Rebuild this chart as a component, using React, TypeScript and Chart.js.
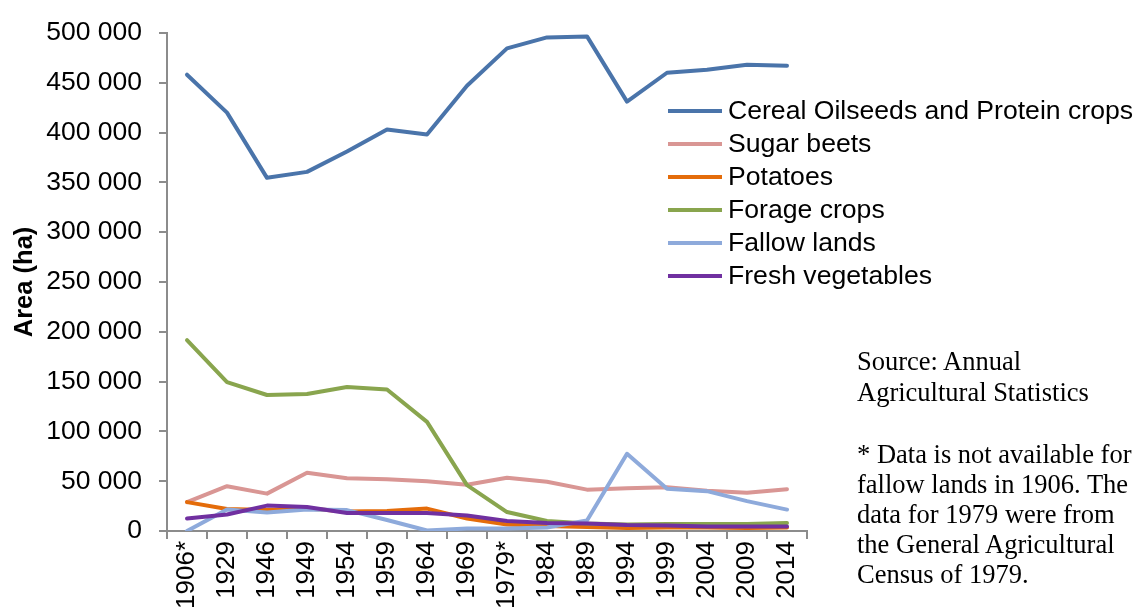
import React, { useEffect, useRef } from 'react';
import { Chart, registerables } from 'chart.js';

Chart.register(...registerables);

const years = ['1906*', '1929', '1946', '1949', '1954', '1959', '1964', '1969', '1979*', '1984', '1989', '1994', '1999', '2004', '2009', '2014'];

const cerealOilseedsProtein = [458000, 420000, 354500, 360500, 381000, 403000, 398000, 447000, 484500, 495500, 496500, 431000, 460000, 463000, 468000, 467000];
const sugarBeets = [29000, 45000, 37500, 58500, 53000, 52000, 50000, 46500, 53500, 49500, 41500, 43000, 44000, 40500, 38500, 42000];
const potatoes = [29000, 22000, 21000, 22500, 19500, 20000, 22500, 12500, 6500, 5000, 4000, 3000, 3500, 3500, 3000, 3500];
const forageCrops = [191500, 149500, 136500, 137500, 144500, 142000, 109500, 46000, 19000, 10000, 7500, 6500, 7000, 7000, 7000, 8000];
const fallowLands = [0, 21500, 18500, 21500, 21000, 11000, 500, 2500, 2500, 3500, 10500, 77500, 42500, 40000, 30000, 21500];
const freshVegetables = [12500, 16500, 25500, 24000, 18000, 18000, 18000, 15500, 10000, 8000, 7500, 6000, 5500, 4500, 4500, 4500];

const seriesNames = ['Cereal Oilseeds and Protein crops', 'Sugar beets', 'Potatoes', 'Forage crops', 'Fallow lands', 'Fresh vegetables'];
const seriesColors = ['#4A74AA', '#D99694', '#E46C0A', '#89A54E', '#8EAADB', '#7030A0'];

const yMin = 0;
const yMax = 500000;
const yStep = 50000;

const sourceLines = ['Source: Annual', 'Agricultural Statistics'];
const footnoteLines = ['* Data is not available for', 'fallow lands in 1906. The', 'data for 1979 were from', 'the General Agricultural', 'Census of 1979.'];

const SANS = '"Liberation Sans", Arial, Helvetica, sans-serif';
const SERIF = '"Liberation Serif", "Times New Roman", serif';
const AXIS = '#8C8C8C';

function fmt(v: number): string {
  return String(v).replace(/\B(?=(\d{3})+(?!\d))/g, ' ');
}

export default function App() {
  const ref = useRef<HTMLCanvasElement>(null);

  useEffect(() => {
    const series = [cerealOilseedsProtein, sugarBeets, potatoes, forageCrops, fallowLands, freshVegetables];
    const chart = new Chart(ref.current as HTMLCanvasElement, {
      type: 'line',
      data: {
        labels: years,
        datasets: series.map((d, i) => ({
          label: seriesNames[i],
          data: d,
          borderColor: seriesColors[i],
          backgroundColor: seriesColors[i],
          borderWidth: 4,
          pointRadius: 0,
          pointHoverRadius: 0,
          tension: 0,
          fill: false,
          order: series.length - 1 - i,
          borderJoinStyle: 'round' as const,
          borderCapStyle: 'round' as const,
        })),
      },
      options: {
        responsive: false,
        animation: false,
        devicePixelRatio: 1,
        layout: { padding: { top: 28, right: 327, left: 0, bottom: 0 } },
        plugins: { legend: { display: false }, tooltip: { enabled: false } },
        scales: {
          x: {
            type: 'category',
            offset: true,
            grid: { display: true, drawOnChartArea: false, drawTicks: true, tickLength: 8, color: AXIS, lineWidth: 2, offset: true },
            border: { display: true, color: AXIS, width: 2 },
            ticks: { autoSkip: false, minRotation: 90, maxRotation: 90, padding: 2, color: '#000', font: { family: SANS, size: 26 } },
            afterFit: (s: any) => { s.height = 81; },
          },
          y: {
            min: yMin,
            max: yMax,
            ticks: { stepSize: yStep, callback: (v: any) => fmt(Number(v)), padding: 17, color: '#000', font: { family: SANS, size: 26.5 } },
            grid: { drawOnChartArea: false, drawTicks: true, tickLength: 8, color: AXIS, lineWidth: 2 },
            border: { display: true, color: AXIS, width: 2 },
            title: { display: true, text: 'Area (ha)', color: '#000', font: { family: SANS, size: 25.5, weight: 'bold' }, padding: { top: 10, bottom: 0 } },
            afterFit: (s: any) => { s.width = 167; },
          },
        },
      },
    } as any);
    return () => chart.destroy();
  }, []);

  return (
    <div style={{ position: 'fixed', left: 0, top: 0, width: 1134, height: 612, overflow: 'hidden', background: '#fff' }}>
      <canvas ref={ref} width={1134} height={612} style={{ position: 'absolute', left: 0, top: 0, width: 1134, height: 612 }} />
      <div style={{ position: 'absolute', left: 668, top: 94 }}>
        {seriesNames.map((n, i) => (
          <div key={n} style={{ display: 'flex', alignItems: 'center', height: 33 }}>
            <span style={{ display: 'inline-block', width: 54, height: 4, background: seriesColors[i], marginRight: 6 }} />
            <span style={{ fontFamily: SANS, fontSize: 26.6, lineHeight: '33px', whiteSpace: 'nowrap', color: '#000' }}>{n}</span>
          </div>
        ))}
      </div>
      <div style={{ position: 'absolute', left: 857, top: 346, fontFamily: SERIF, fontSize: 26.5, lineHeight: '30.5px', color: '#000' }}>
        {sourceLines.map((l) => (<div key={l} style={{ whiteSpace: 'nowrap' }}>{l}</div>))}
      </div>
      <div style={{ position: 'absolute', left: 857, top: 439, fontFamily: SERIF, fontSize: 26.5, lineHeight: '30px', color: '#000' }}>
        {footnoteLines.map((l) => (<div key={l} style={{ whiteSpace: 'nowrap' }}>{l}</div>))}
      </div>
    </div>
  );
}
